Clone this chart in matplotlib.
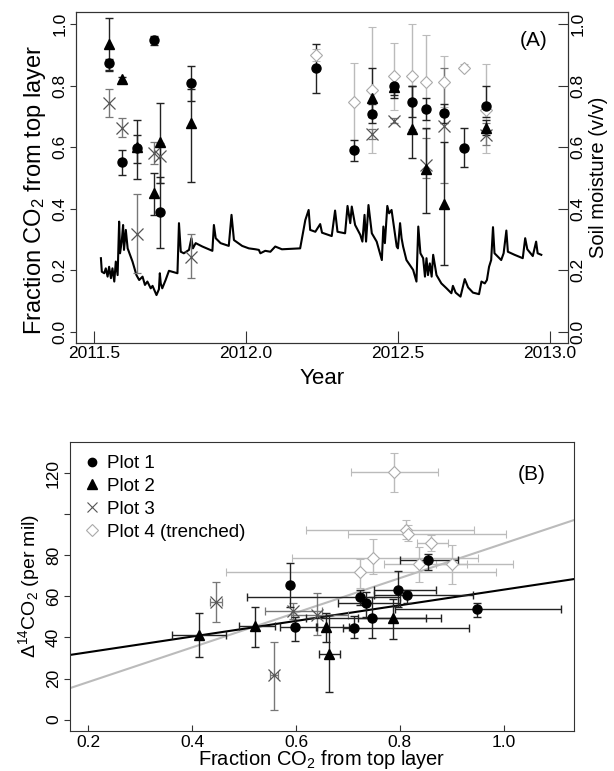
import numpy as np
import matplotlib
matplotlib.use("Agg")
from matplotlib import pyplot as plt
from matplotlib.lines import Line2D

plt.rcParams["font.family"] = ["Liberation Sans", "DejaVu Sans"]
plt.rcParams["mathtext.fontset"] = "custom"
plt.rcParams["mathtext.rm"] = "Liberation Sans"
plt.rcParams["mathtext.it"] = "Liberation Sans:italic"

# ---- Panel A: fraction of CO2 from top layer through time ----
p1_year = [2011.549, 2011.591, 2011.642, 2011.698, 2011.716, 2011.819, 2012.229, 2012.356,
           2012.416, 2012.488, 2012.545, 2012.594, 2012.653, 2012.718, 2012.789]
p1_frac = [0.873, 0.551, 0.597, 0.948, 0.388, 0.810, 0.857, 0.591, 0.708, 0.800, 0.746, 0.724, 0.710, 0.599, 0.735]
p1_lo = [0.849, 0.510, 0.550, 0.933, 0.271, 0.750, 0.778, 0.556, 0.680, 0.770, 0.700, 0.690, 0.680, 0.537, 0.700]
p1_hi = [0.886, 0.592, 0.640, 0.962, 0.502, 0.864, 0.935, 0.624, 0.740, 0.830, 0.800, 0.760, 0.740, 0.664, 0.800]

p2_year = [2011.549, 2011.591, 2011.642, 2011.698, 2011.716, 2011.819, 2012.416, 2012.488,
           2012.545, 2012.594, 2012.653, 2012.789]
p2_frac = [0.936, 0.822, 0.600, 0.450, 0.618, 0.678, 0.761, 0.795, 0.658, 0.529, 0.414, 0.664]
p2_lo = [0.850, 0.815, 0.496, 0.380, 0.485, 0.488, 0.700, 0.760, 0.564, 0.385, 0.217, 0.640]
p2_hi = [1.020, 0.830, 0.689, 0.515, 0.745, 0.789, 0.857, 0.830, 0.800, 0.662, 0.618, 0.690]

p3_year = [2011.549, 2011.591, 2011.642, 2011.698, 2011.716, 2011.819, 2012.416, 2012.488,
           2012.594, 2012.653, 2012.789]
p3_frac = [0.745, 0.664, 0.317, 0.580, 0.572, 0.244, 0.643, 0.687, 0.542, 0.669, 0.640]
p3_lo = [0.697, 0.634, 0.190, 0.544, 0.485, 0.176, 0.626, 0.680, 0.500, 0.485, 0.607]
p3_hi = [0.789, 0.694, 0.447, 0.616, 0.615, 0.318, 0.658, 0.695, 0.630, 0.857, 0.680]

p4_year = [2012.229, 2012.356, 2012.416, 2012.488, 2012.545, 2012.594, 2012.653, 2012.718, 2012.789]
p4_frac = [0.900, 0.748, 0.786, 0.832, 0.832, 0.813, 0.813, 0.859, 0.721]
p4_lo = [0.880, 0.600, 0.582, 0.720, 0.660, 0.660, 0.730, 0.850, 0.580]
p4_hi = [0.920, 0.875, 0.990, 0.940, 1.000, 0.965, 0.897, 0.870, 0.870]

# soil moisture trace
sm_year = [2011.522, 2011.525, 2011.533, 2011.538, 2011.544, 2011.549, 2011.555, 2011.560, 2011.566,
           2011.571, 2011.577, 2011.582, 2011.585, 2011.591, 2011.595, 2011.598, 2011.604, 2011.610,
           2011.626, 2011.639, 2011.648, 2011.659, 2011.667, 2011.675, 2011.686, 2011.692, 2011.705,
           2011.713, 2011.716, 2011.719, 2011.724, 2011.735, 2011.746, 2011.757, 2011.774, 2011.779,
           2011.785, 2011.795, 2011.812, 2011.820, 2011.825, 2011.834, 2011.856, 2011.889, 2011.894,
           2011.900, 2011.916, 2011.943, 2011.952, 2011.960, 2011.987, 2012.009, 2012.031, 2012.042,
           2012.047, 2012.063, 2012.080, 2012.096, 2012.118, 2012.178, 2012.184, 2012.195, 2012.206,
           2012.211, 2012.228, 2012.244, 2012.250, 2012.282, 2012.293, 2012.301, 2012.326, 2012.334,
           2012.343, 2012.348, 2012.359, 2012.376, 2012.383, 2012.390, 2012.395, 2012.403, 2012.414,
           2012.430, 2012.447, 2012.452, 2012.457, 2012.465, 2012.471, 2012.479, 2012.496, 2012.500,
           2012.507, 2012.512, 2012.517, 2012.528, 2012.539, 2012.550, 2012.561, 2012.567, 2012.574,
           2012.583, 2012.589, 2012.594, 2012.599, 2012.605, 2012.611, 2012.616, 2012.627, 2012.643,
           2012.660, 2012.676, 2012.681, 2012.690, 2012.706, 2012.720, 2012.731, 2012.747, 2012.767,
           2012.775, 2012.786, 2012.793, 2012.800, 2012.807, 2012.813, 2012.818, 2012.840, 2012.848,
           2012.857, 2012.862, 2012.884, 2012.911, 2012.919, 2012.926, 2012.944, 2012.955, 2012.960,
           2012.972]
sm_value = [0.239, 0.195, 0.190, 0.206, 0.179, 0.211, 0.174, 0.206, 0.163,
            0.228, 0.184, 0.358, 0.255, 0.298, 0.347, 0.266, 0.331, 0.271,
            0.228, 0.184, 0.168, 0.179, 0.152, 0.163, 0.141, 0.149, 0.119,
            0.138, 0.190, 0.157, 0.141, 0.168, 0.198, 0.195, 0.190, 0.353,
            0.260, 0.255, 0.266, 0.304, 0.271, 0.288, 0.277, 0.263, 0.347,
            0.304, 0.288, 0.279, 0.380, 0.298, 0.279, 0.271, 0.268, 0.266,
            0.255, 0.263, 0.260, 0.277, 0.268, 0.271, 0.304, 0.363, 0.396,
            0.331, 0.325, 0.350, 0.322, 0.311, 0.394, 0.325, 0.320, 0.409,
            0.353, 0.407, 0.347, 0.315, 0.293, 0.380, 0.293, 0.412, 0.320,
            0.293, 0.233, 0.342, 0.288, 0.409, 0.385, 0.396, 0.277, 0.271,
            0.353, 0.304, 0.277, 0.233, 0.217, 0.201, 0.163, 0.342, 0.255,
            0.239, 0.179, 0.239, 0.184, 0.222, 0.179, 0.250, 0.184, 0.157,
            0.141, 0.125, 0.149, 0.127, 0.114, 0.171, 0.144, 0.127, 0.122,
            0.163, 0.157, 0.168, 0.211, 0.233, 0.340, 0.255, 0.233, 0.255,
            0.329, 0.260, 0.250, 0.239, 0.304, 0.268, 0.246, 0.293, 0.255,
            0.250]

# ---- Panel B: delta 14C vs fraction from top layer ----
b1_x = [0.588, 0.599, 0.711, 0.723, 0.735, 0.746, 0.797, 0.813, 0.855, 0.948]
b1_y = [65.6, 45.0, 44.8, 59.9, 56.7, 49.4, 63.2, 60.6, 77.5, 53.9]
b1_xlo = [0.585, 0.570, 0.690, 0.506, 0.680, 0.620, 0.751, 0.750, 0.800, 0.790]
b1_xhi = [0.592, 0.640, 0.933, 0.800, 0.800, 0.850, 0.870, 0.940, 0.912, 1.111]
b1_ylo = [55.0, 38.5, 39.6, 56.0, 50.0, 39.6, 55.0, 57.0, 73.0, 50.0]
b1_yhi = [76.1, 50.2, 50.4, 63.0, 62.0, 59.9, 72.6, 63.0, 80.5, 57.0]

b2_x = [0.414, 0.522, 0.658, 0.663, 0.787]
b2_y = [41.2, 45.6, 45.3, 31.8, 49.7]
b2_xlo = [0.362, 0.490, 0.638, 0.645, 0.720]
b2_xhi = [0.465, 0.560, 0.702, 0.685, 0.880]
b2_ylo = [30.7, 35.2, 38.0, 13.6, 39.4]
b2_yhi = [51.8, 54.7, 52.0, 51.0, 58.5]

b3_x = [0.446, 0.558, 0.594, 0.640]
b3_y = [57.5, 21.8, 53.1, 51.0]
b3_xlo = [0.435, 0.550, 0.540, 0.590]
b3_xhi = [0.458, 0.566, 0.650, 0.700]
b3_ylo = [47.4, 4.7, 49.0, 41.2]
b3_yhi = [67.2, 38.0, 57.0, 61.5]

b4_x = [0.788, 0.812, 0.815, 0.860, 0.749, 0.724, 0.836, 0.900]
b4_y = [120.5, 92.4, 90.5, 86.2, 78.6, 72.1, 75.7, 75.7]
b4_xlo = [0.705, 0.620, 0.700, 0.832, 0.593, 0.465, 0.770, 0.870]
b4_xhi = [0.873, 0.943, 1.005, 0.892, 0.950, 0.984, 1.017, 0.930]
b4_ylo = [111.0, 88.0, 87.0, 82.0, 71.0, 64.0, 67.0, 66.0]
b4_yhi = [129.7, 97.0, 95.0, 90.0, 88.0, 78.0, 84.0, 85.0]

# regression lines (intercept, slope)
fit_black = (25.2, 38.1)
fit_grey = (1.4, 84.4)

ERR1, ERR2, ERR3, ERR4 = "#222222", "#222222", "#777777", "#bbbbbb"


def err_of(v, lo, hi):
    v, lo, hi = np.array(v), np.array(lo), np.array(hi)
    return [v - lo, hi - v]


fig = plt.figure(figsize=(6.14, 7.71), dpi=100)

# Panel A
ax = fig.add_axes([0.1238, 0.5551, 0.8013, 0.4293])
ax2 = ax.twinx()
ax2.plot(sm_year, sm_value, color="black", lw=1.5, zorder=2)
ax2.set_ylim(-0.037, 1.04)
ax.set_zorder(ax2.get_zorder() + 1)
ax.patch.set_visible(False)

ekw = dict(capsize=3, elinewidth=1, capthick=1, ls="none")
ax.errorbar(p4_year, p4_frac, yerr=err_of(p4_frac, p4_lo, p4_hi), ecolor=ERR4,
            fmt="D", ms=6, mfc="white", mec="#aaaaaa", mew=0.8, **ekw)
ax.errorbar(p3_year, p3_frac, yerr=err_of(p3_frac, p3_lo, p3_hi), ecolor=ERR3,
            fmt="x", ms=8, mec="#555555", mew=0.9, **ekw)
ax.errorbar(p2_year, p2_frac, yerr=err_of(p2_frac, p2_lo, p2_hi), ecolor=ERR2,
            fmt="^", ms=7, color="black", **ekw)
ax.errorbar(p1_year, p1_frac, yerr=err_of(p1_frac, p1_lo, p1_hi), ecolor=ERR1,
            fmt="o", ms=6.5, color="black", **ekw)

ax.set_xlim(2011.44, 2013.06)
ax.set_ylim(-0.037, 1.04)
ax.set_xticks([2011.5, 2012.0, 2012.5, 2013.0])
ax.set_xticklabels(["2011.5", "2012.0", "2012.5", "2013.0"])
ax.set_yticks([0, 0.2, 0.4, 0.6, 0.8, 1.0])
ax.set_yticklabels(["0.0", "0.2", "0.4", "0.6", "0.8", "1.0"], rotation=90, va="center")
ax2.set_yticks([0, 0.2, 0.4, 0.6, 0.8, 1.0])
ax2.set_yticklabels(["0.0", "0.2", "0.4", "0.6", "0.8", "1.0"], rotation=90, va="center")
ax.tick_params(axis="x", direction="in", length=8.5, pad=2, labelsize=12.5)
ax.tick_params(axis="y", direction="out", length=4.5, pad=1.5, labelsize=12.5)
ax2.tick_params(axis="y", direction="in", length=7, pad=2, labelsize=12.5)
for a in (ax, ax2):
    a.tick_params(colors="#333333", labelcolor="black")
    for s in a.spines.values():
        s.set_color("#333333")
ax.set_xlabel("Year", fontsize=16, labelpad=5)
ax.set_ylabel("Fraction CO$_2$ from top layer", fontsize=17)
ax.yaxis.set_label_coords(-0.056, 0.462)
ax2.set_ylabel("Soil moisture (v/v)", fontsize=14.5, labelpad=2)
ax.text(0.959, 0.915, "(A)", transform=ax.transAxes, ha="right", va="center", fontsize=15)

# Panel B
bx = fig.add_axes([0.114, 0.0523, 0.8208, 0.3744])
bx.axline((0, fit_grey[0]), slope=fit_grey[1], color="#bbbbbb", lw=1.5, zorder=1)
bx.axline((0, fit_black[0]), slope=fit_black[1], color="black", lw=1.5, zorder=1)

bx.errorbar(b4_x, b4_y, xerr=err_of(b4_x, b4_xlo, b4_xhi), yerr=err_of(b4_y, b4_ylo, b4_yhi),
            ecolor=ERR4, fmt="D", ms=6, mfc="white", mec="#aaaaaa", mew=0.8, **ekw)
bx.errorbar(b3_x, b3_y, xerr=err_of(b3_x, b3_xlo, b3_xhi), yerr=err_of(b3_y, b3_ylo, b3_yhi),
            ecolor=ERR3, fmt="x", ms=8, mec="#555555", mew=0.9, **ekw)
bx.errorbar(b2_x, b2_y, xerr=err_of(b2_x, b2_xlo, b2_xhi), yerr=err_of(b2_y, b2_ylo, b2_yhi),
            ecolor=ERR2, fmt="^", ms=7, color="black", **ekw)
bx.errorbar(b1_x, b1_y, xerr=err_of(b1_x, b1_xlo, b1_xhi), yerr=err_of(b1_y, b1_ylo, b1_yhi),
            ecolor=ERR1, fmt="o", ms=6.5, color="black", **ekw)

bx.set_xlim(0.165, 1.135)
bx.set_ylim(-5.4, 135.2)
bx.set_xticks([0.2, 0.4, 0.6, 0.8, 1.0])
bx.set_xticklabels(["0.2", "0.4", "0.6", "0.8", "1.0"])
bx.set_yticks([0, 20, 40, 60, 80, 100, 120])
bx.set_yticklabels(["0", "20", "40", "60", "80", "", "120"], rotation=90, va="center")
bx.tick_params(axis="x", direction="in", length=4.5, pad=3, labelsize=12.5)
bx.tick_params(axis="y", direction="out", length=4.5, pad=2, labelsize=12.5)
bx.tick_params(colors="#333333", labelcolor="black")
for s in bx.spines.values():
    s.set_color("#333333")
bx.set_xlabel("Fraction CO$_2$ from top layer", fontsize=14.5, labelpad=-1)
bx.set_ylabel("Δ$^{14}$CO$_2$ (per mil)", fontsize=14, labelpad=3)
bx.text(0.944, 0.889, "(B)", transform=bx.transAxes, ha="right", va="center", fontsize=15)

leg_handles = [Line2D([], [], marker="o", ls="none", color="black", ms=6),
               Line2D([], [], marker="^", ls="none", color="black", ms=6.5),
               Line2D([], [], marker="x", ls="none", mec="#555555", ms=7, mew=0.8),
               Line2D([], [], marker="D", ls="none", mfc="white", mec="#aaaaaa", ms=6, mew=0.8)]
bx.legend(leg_handles, ["Plot 1", "Plot 2", "Plot 3", "Plot 4 (trenched)"], loc="upper left",
          frameon=False, fontsize=13.5, handletextpad=0.25, handlelength=1.0,
          labelspacing=0.3, borderaxespad=0.4, borderpad=0.3)

fig.savefig("out.png", dpi=100)
